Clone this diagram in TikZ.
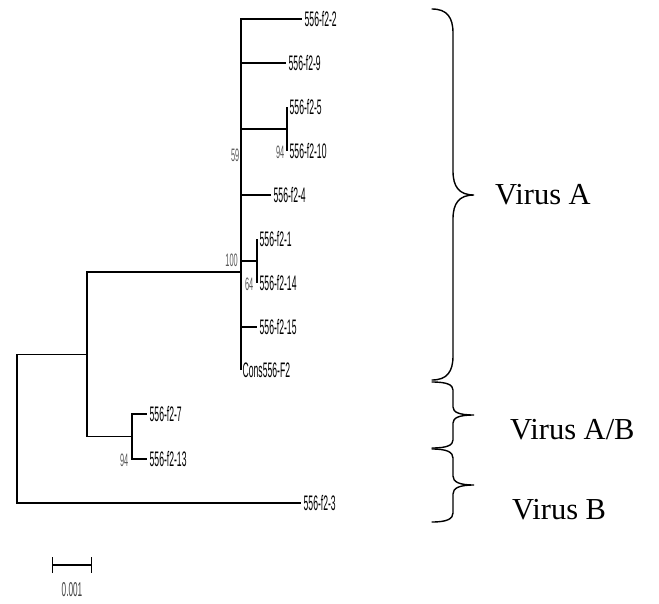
\documentclass[tikz,border=0pt]{standalone}
\usepackage{fontspec}
\setmainfont{Liberation Serif}
\newfontfamily\treefont[FakeStretch=0.41]{Liberation Sans}
\usepackage{tikz}
\usetikzlibrary{arrows.meta,positioning,calc}
\definecolor{bootgray}{RGB}{90, 90, 90}
\tikzset{
  branch/.style={
    line width=1.3pt,
    draw=black
  },
  leaf/.style={
    anchor=west,
    inner xsep=2.5pt,
    inner ysep=1pt,
    font=\treefont\fontsize{21}{22}\selectfont
  },
  boot/.style={
    anchor=east,
    inner sep=0.5pt,
    text=bootgray,
    font=\treefont\fontsize{18}{19}\selectfont
  },
  groupname/.style={
    anchor=base west,
    inner sep=0pt,
    font=\fontsize{30.5}{32}\selectfont
  },
  bracestyle/.style={
    line width=1.4pt,
    line cap=round
  }
}
% #1 top, #2 tip, #3 bottom, #4 corner length
\newcommand{\virusbrace}[4]{%
  \draw[bracestyle] (432,#1) .. controls (447,#1) and (453,{#1+0.35*#4}) .. (453,{#1+#4})
    -- (453,{#2-#4}) .. controls (453,{#2-0.35*#4}) and (459,#2) .. (474,#2)
    .. controls (459,#2) and (453,{#2+0.35*#4}) .. (453,{#2+#4})
    -- (453,{#3-#4}) .. controls (453,{#3-0.35*#4}) and (447,#3) .. (432,#3);}

\begin{document}
\begin{tikzpicture}[x=1pt, y=-1pt]
  \useasboundingbox (0,0) rectangle (659,603);

  % internal nodes
  \coordinate (root) at (17,428.75);
  \coordinate (nmid) at (87,354.5);
  \coordinate (n100) at (241,272);
  \coordinate (n94a) at (287,129);
  \coordinate (n64) at (257,261);
  \coordinate (n94b) at (132,436.5);

  % leaves
  \node[leaf] (s2) at (302,19) {556-f2-2};
  \node[leaf] (s9) at (286,63) {556-f2-9};
  \node[leaf] (s5) at (287,107) {556-f2-5};
  \node[leaf] (s10) at (287,151) {556-f2-10};
  \node[leaf] (s4) at (271,195) {556-f2-4};
  \node[leaf] (s1) at (257,239) {556-f2-1};
  \node[leaf] (s14) at (257,283) {556-f2-14};
  \node[leaf] (s15) at (257,327) {556-f2-15};
  \node[leaf, inner xsep=1.5pt] (cons) at (241,370) {Cons556-F2};
  \node[leaf] (s7) at (147,414) {556-f2-7};
  \node[leaf] (s13) at (147,459) {556-f2-13};
  \node[leaf] (s3) at (301,503) {556-f2-3};

  % branches
  \draw[branch] (root) |- (nmid);
  \draw[branch] (root) |- (s3.west);
  \draw[branch] (nmid) |- (n100);
  \draw[branch] (nmid) |- (n94b);
  \draw[branch] (n94b) |- (s7.west);
  \draw[branch] (n94b) |- (s13.west);
  \draw[branch] (n100) |- (s2.west);
  \draw[branch] (n100) |- (s9.west);
  \draw[branch] (n100) |- (n94a);
  \draw[branch] (n94a) |- (s5.west);
  \draw[branch] (n94a) |- (s10.west);
  \draw[branch] (n100) |- (s4.west);
  \draw[branch] (n100) |- (n64);
  \draw[branch] (n64) |- (s1.west);
  \draw[branch] (n64) |- (s14.west);
  \draw[branch] (n100) |- (s15.west);
  \draw[branch] (n100) |- (cons.west);

  % bootstrap values
  \node[boot] (b59) at (240,155) {59};
  \node[boot] (b94a) at (285,152) {94};
  \node[boot] (b100) at (238.5,260.5) {100};
  \node[boot] (b64) at (254,284) {64};
  \node[boot] (b94b) at (129,460) {94};

  % scale bar
  \coordinate (barL) at (52,565);
  \coordinate (barR) at (92,565);
  \draw[line width=1.2pt, {Bar[width=16pt]}-{Bar[width=16pt]}] (barL) -- (barR);
  \node[boot, anchor=center, text=black!75, font=\treefont\fontsize{20}{21}\selectfont] (barlabel) at (72,590) {0.001};

  % groups
  \virusbrace{9}{195}{380}{24}
  \virusbrace{382}{415}{448}{8}
  \virusbrace{449}{485}{522}{9}
  \node[groupname] (virA) at (495,204) {Virus A};
  \node[groupname] (virAB) at (510,439) {Virus A/B};
  \node[groupname] (virB) at (512,519) {Virus B};
\end{tikzpicture}
\end{document}
